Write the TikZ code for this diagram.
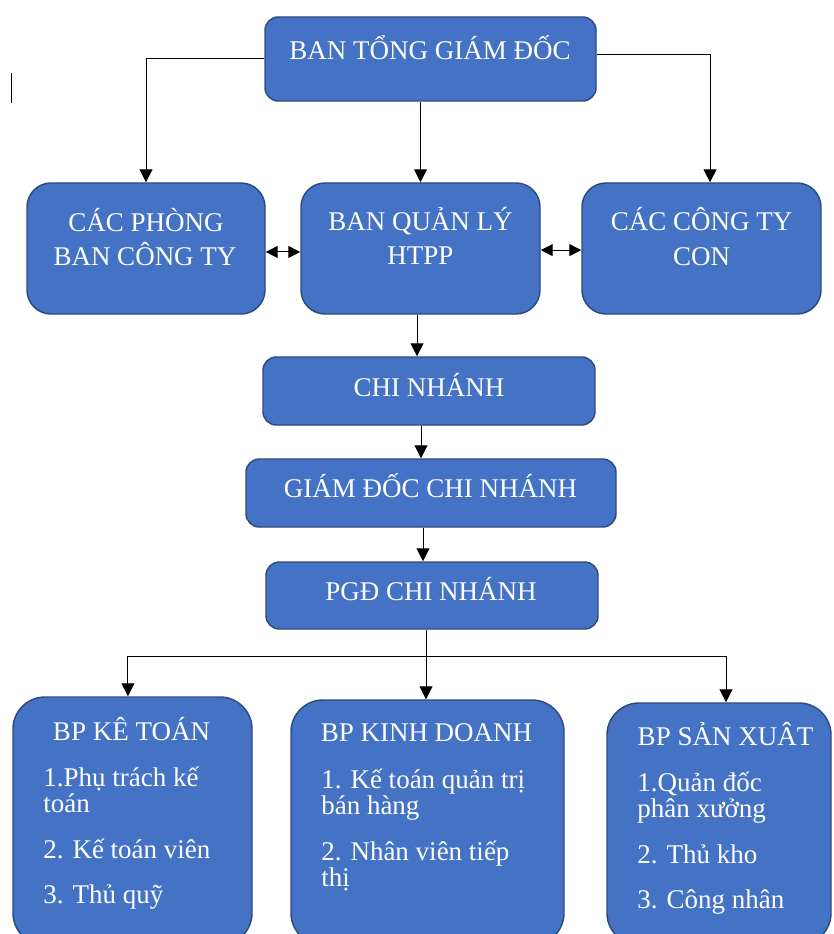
\documentclass[tikz,border=0pt]{standalone}
\usepackage{fontspec}
\setmainfont{Liberation Serif}
\usetikzlibrary{arrows.meta}
\definecolor{boxfill}{HTML}{4472C4}
\definecolor{boxline}{HTML}{2F4A80}
\begin{document}
\begin{tikzpicture}[x=0.75pt,y=-0.75pt,
  bx/.style={draw=boxline, fill=boxfill, line width=1.1pt, inner sep=0pt},
  rsmall/.style={rounded corners=10pt},
  rmid/.style={rounded corners=18pt},
  rbig/.style={rounded corners=24pt},
  dims/.style 2 args={minimum width=#1*0.75pt, minimum height=#2*0.75pt},
  txt/.style={text=white, font=\fontsize{20.25pt}{24pt}\selectfont, inner sep=0pt},
  ctxt/.style={txt, anchor=base},
  ltxt/.style={txt, anchor=base west},
  ln/.style={line width=0.75pt, draw=black},
  arr/.style={ln, -{Triangle[length=9.75pt,width=9.75pt]}},
  darr/.style={ln, {Triangle[length=9pt,width=9pt]}-{Triangle[length=9pt,width=9pt]}}
]
\useasboundingbox (0,0) rectangle (833,934);
\fill[white] (0,0) rectangle (833,934);
\clip (0,0) rectangle (833,934);

% cursor mark
\draw[line width=1.2pt] (11.5,73) -- (11.5,103);

% boxes
\node[bx, rsmall, dims={331}{84}] (top) at (430.5,59) {};
\node[bx, rmid, dims={238}{131}] (phong) at (146,248.5) {};
\node[bx, rmid, dims={239}{131}] (htpp) at (420.5,248.5) {};
\node[bx, rmid, dims={239}{131}] (con) at (701.5,248.5) {};
\node[bx, rsmall, dims={332}{68}] (chi) at (429,391) {};
\node[bx, rsmall, dims={370}{68}] (gd) at (431,493) {};
\node[bx, rsmall, dims={332}{67}] (pgd) at (432,595.5) {};
\node[bx, rbig, dims={239}{248}] (kt) at (132.5,821) {};
\node[bx, rbig, dims={273}{245}] (kd) at (427.5,822.5) {};
\node[bx, rbig, dims={224}{242}] (sx) at (719,824) {};

% texts
\node[ctxt] (ttop) at (430,60) {BAN TỔNG GIÁM ĐỐC};
\node[ctxt] (tph1) at (146,231.5) {CÁC PHÒNG};
\node[ctxt] (tph2) at (145,265.5) {BAN CÔNG TY};
\node[ctxt] (tht1) at (420.5,230) {BAN QUẢN LÝ};
\node[ctxt] (tht2) at (420.5,264) {HTPP};
\node[ctxt] (tco1) at (701.5,230) {CÁC CÔNG TY};
\node[ctxt] (tco2) at (701.5,265) {CON};
\node[ctxt] (tchi) at (429,396) {CHI NHÁNH};
\node[ctxt] (tgd) at (430.5,497.5) {GIÁM ĐỐC CHI NHÁNH};
\node[ctxt] (tpgd) at (431,600) {PGĐ CHI NHÁNH};

\node[ctxt] (tkt) at (131.5,740) {BP KÊ TOÁN};
\node[ltxt] (kt1) at (43,786.5) {1.Phụ trách kế};
\node[ltxt] (kt1b) at (43,812.5) {toán};
\node[ltxt] (kt2) at (43,858) {2. Kế toán viên};
\node[ltxt] (kt3) at (43,903) {3. Thủ quỹ};

\node[ctxt] (tkd) at (426.5,741.5) {BP KINH DOANH};
\node[ltxt] (kd1) at (321,788) {1. Kế toán quản trị};
\node[ltxt] (kd1b) at (321,814) {bán hàng};
\node[ltxt] (kd2) at (321,860.5) {2. Nhân viên tiếp};
\node[ltxt] (kd2b) at (321,886.5) {thị};

\node[ctxt] (tsx) at (725.5,745.5) {BP SẢN XUÂT};
\node[ltxt] (sx1) at (637,791.5) {1.Quản đốc};
\node[ltxt] (sx1b) at (637,817) {phân xưởng};
\node[ltxt] (sx2) at (637,863) {2. Thủ kho};
\node[ltxt] (sx3) at (637,908) {3. Công nhân};

% connectors
\draw[arr] (top.west) -| (phong.north);
\draw[arr] ([yshift=3pt]top.east) -| ([xshift=6.4pt]con.north);
\draw[arr] (top.south -| htpp.north) -- (htpp.north);
\draw[darr] ([yshift=-2.6pt]phong.east) -- ([yshift=-2.6pt]htpp.west);
\draw[darr] ([yshift=-1.2pt]htpp.east) -- ([yshift=-1.2pt]con.west);
\draw[arr] ([xshift=-2.6pt]htpp.south) -- ([xshift=-2.6pt]htpp.south |- chi.north);
\draw[arr] ([xshift=-6pt]chi.south) -- ([xshift=-6pt]chi.south |- gd.north);
\draw[arr] ([xshift=-6pt]gd.south) -- ([xshift=-6pt]gd.south |- pgd.north);
\draw[arr] ([xshift=-4.5pt]pgd.south) -- ([xshift=-4.5pt]pgd.south |- kd.north);
\coordinate (bus) at (426,656);
\draw[arr] (bus) -| ([xshift=-3.4pt]kt.north);
\draw[arr] (bus) -| ([xshift=5.25pt]sx.north);
\end{tikzpicture}
\end{document}
